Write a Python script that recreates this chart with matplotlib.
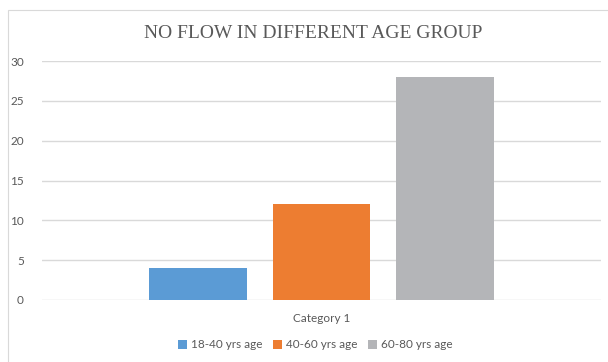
import matplotlib
matplotlib.use("Agg")
import matplotlib.pyplot as plt
from matplotlib.patches import Rectangle

# data
category = "Category 1"
groups = ["18-40 yrs age", "40-60 yrs age", "60-80 yrs age"]
values = [4, 12, 28]
colors = ["#5B9BD5", "#ED7D31", "#B4B5B8"]
yticks = [0, 5, 10, 15, 20, 25, 30]

TXT = "#595959"
GRID = "#D9D9D9"

fig = plt.figure(figsize=(6.08, 3.62), dpi=100)
fig.patches.append(Rectangle((8 / 608, -0.05), 1.1, 1 - 10 / 362 + 0.05,
                             transform=fig.transFigure, fill=False,
                             edgecolor=GRID, linewidth=0.8))

ax = fig.add_axes([42 / 608, 1 - 300 / 362, 559 / 608, 239 / 362])

width = 0.1753
step = 0.2218
for i, (g, v, c) in enumerate(zip(groups, values, colors)):
    ax.bar((i - 1) * step, v, width=width, color=c, label=g, zorder=3)

ax.set_xlim(-0.5, 0.5)
ax.set_ylim(0, 30)
ax.set_yticks(yticks)
ax.set_xticks([0])
ax.set_xticklabels([category])
ax.tick_params(axis="both", length=0, colors=TXT, labelsize=8.5)
ax.tick_params(axis="y", pad=13)
ax.tick_params(axis="x", pad=9)
for lab in ax.get_xticklabels() + ax.get_yticklabels():
    lab.set_family("Lato")
for s in ax.spines.values():
    s.set_visible(False)
ax.grid(axis="y", color=GRID, linewidth=1.0, zorder=0)

fig.text(313 / 608, 1 - 33 / 362, "NO FLOW IN DIFFERENT AGE GROUP",
         ha="center", va="center", fontsize=14, family="Liberation Serif",
         color=TXT)

fig.legend(loc="center", bbox_to_anchor=(315 / 608, 1 - 345 / 362), ncol=3,
           frameon=False, handlelength=0.8, handleheight=0.8, handletextpad=0.3,
           columnspacing=0.9, prop={"family": "Lato", "size": 8.5},
           labelcolor=TXT)

fig.savefig("out.png", dpi=100, facecolor="white")
